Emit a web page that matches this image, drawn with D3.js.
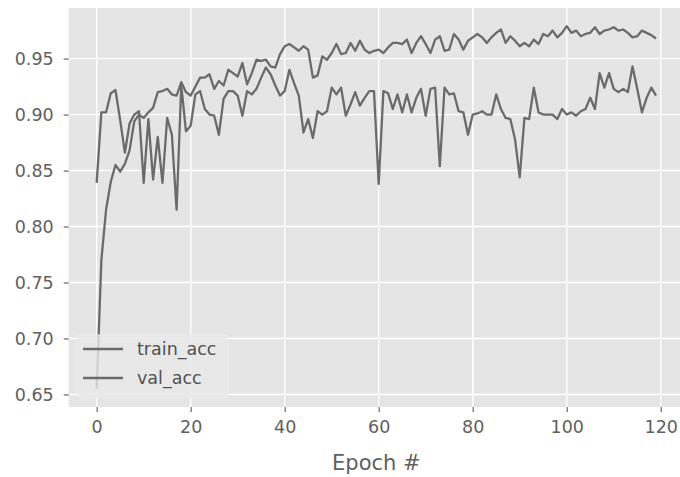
<!DOCTYPE html>
<html>
<head>
<meta charset="utf-8">
<script src="https://cdn.jsdelivr.net/npm/d3@7"></script>
<style>
  body { margin: 0; background: #fff; }
  svg { display: block; font-family: "DejaVu Sans", sans-serif; }
</style>
</head>
<body>
<div id="chart-container"></div>
<script>
// accuracy per epoch
const trainAcc = [
  0.655, 0.770, 0.815, 0.840, 0.855, 0.849, 0.856, 0.868, 0.894, 0.900,
  0.897, 0.902, 0.906, 0.920, 0.921, 0.923, 0.918, 0.917, 0.929, 0.920,
  0.917, 0.925, 0.933, 0.933, 0.936, 0.923, 0.930, 0.926, 0.940, 0.937,
  0.934, 0.946, 0.927, 0.937, 0.949, 0.948, 0.949, 0.943, 0.942, 0.954,
  0.961, 0.963, 0.960, 0.957, 0.961, 0.958, 0.933, 0.935, 0.952, 0.949,
  0.955, 0.963, 0.954, 0.955, 0.964, 0.957, 0.966, 0.958, 0.955, 0.957,
  0.958, 0.955, 0.960, 0.964, 0.964, 0.963, 0.967, 0.955, 0.964, 0.970,
  0.963, 0.955, 0.967, 0.970, 0.957, 0.958, 0.972, 0.967, 0.958, 0.966,
  0.969, 0.972, 0.969, 0.964, 0.969, 0.973, 0.976, 0.964, 0.970, 0.966,
  0.961, 0.964, 0.961, 0.967, 0.963, 0.972, 0.970, 0.975, 0.969, 0.973,
  0.979, 0.973, 0.975, 0.970, 0.972, 0.973, 0.978, 0.972, 0.975, 0.976,
  0.978, 0.975, 0.976, 0.973, 0.969, 0.970, 0.975, 0.973, 0.971, 0.968
];

const valAcc = [
  0.839, 0.902, 0.902, 0.919, 0.922, 0.895, 0.866, 0.892, 0.900, 0.903,
  0.839, 0.896, 0.842, 0.880, 0.839, 0.897, 0.882, 0.815, 0.926, 0.885,
  0.890, 0.918, 0.921, 0.905, 0.900, 0.899, 0.882, 0.914, 0.921, 0.921,
  0.917, 0.899, 0.921, 0.918, 0.923, 0.933, 0.942, 0.936, 0.926, 0.917,
  0.921, 0.940, 0.928, 0.917, 0.884, 0.896, 0.879, 0.903, 0.900, 0.903,
  0.924, 0.918, 0.924, 0.899, 0.909, 0.920, 0.908, 0.915, 0.921, 0.921,
  0.838, 0.921, 0.919, 0.905, 0.918, 0.902, 0.918, 0.902, 0.915, 0.923,
  0.899, 0.923, 0.924, 0.854, 0.924, 0.918, 0.919, 0.903, 0.902, 0.882,
  0.900, 0.901, 0.903, 0.900, 0.900, 0.918, 0.905, 0.897, 0.896, 0.878,
  0.844, 0.897, 0.896, 0.924, 0.902, 0.900, 0.900, 0.900, 0.896, 0.905,
  0.900, 0.902, 0.899, 0.903, 0.905, 0.915, 0.905, 0.937, 0.924, 0.937,
  0.923, 0.920, 0.923, 0.920, 0.943, 0.923, 0.902, 0.915, 0.924, 0.917
];

const seriesNames = ["train_acc", "val_acc"];
const xTicks = [0, 20, 40, 60, 80, 100, 120];
const yTicks = [0.65, 0.70, 0.75, 0.80, 0.85, 0.90, 0.95];
const xLabel = "Epoch #";

function createVisualization() {
  const width = 680;
  const height = 477;
  const plot = { left: 68.7, right: 684, top: 8, bottom: 407 };

  const epochs = d3.range(trainAcc.length);
  const series = [trainAcc, valAcc];

  // matplotlib style 5% margins around the data
  const xExt = d3.extent(epochs);
  const xPad = (xExt[1] - xExt[0]) * 0.05;
  const x = d3.scaleLinear()
    .domain([xExt[0] - xPad, xExt[1] + xPad])
    .range([plot.left, plot.right]);

  const yExt = d3.extent(trainAcc.concat(valAcc));
  const yPad = (yExt[1] - yExt[0]) * 0.05;
  const y = d3.scaleLinear()
    .domain([yExt[0] - yPad, yExt[1] + yPad])
    .range([plot.bottom, plot.top]);

  const svg = d3.select("#chart-container")
    .append("svg")
    .attr("width", width)
    .attr("height", height);

  svg.append("rect")
    .attr("width", width)
    .attr("height", height)
    .attr("fill", "#fff");

  // grey panel
  svg.append("rect")
    .attr("x", plot.left)
    .attr("y", plot.top)
    .attr("width", plot.right - plot.left)
    .attr("height", plot.bottom - plot.top)
    .attr("fill", "#e5e5e5");

  // grid
  svg.append("g")
    .selectAll("line")
    .data(xTicks)
    .enter()
    .append("line")
    .attr("x1", d => x(d))
    .attr("x2", d => x(d))
    .attr("y1", plot.top)
    .attr("y2", plot.bottom)
    .attr("stroke", "#fff")
    .attr("stroke-width", 1.4);

  svg.append("g")
    .selectAll("line")
    .data(yTicks)
    .enter()
    .append("line")
    .attr("x1", plot.left)
    .attr("x2", plot.right)
    .attr("y1", d => y(d))
    .attr("y2", d => y(d))
    .attr("stroke", "#fff")
    .attr("stroke-width", 1.4);

  // x axis
  const xAxis = svg.append("g")
    .attr("transform", `translate(0,${plot.bottom})`)
    .call(d3.axisBottom(x).tickValues(xTicks).tickSize(5).tickPadding(9));
  xAxis.select(".domain").remove();

  // y axis
  const yAxis = svg.append("g")
    .attr("transform", `translate(${plot.left},0)`)
    .call(d3.axisLeft(y).tickValues(yTicks).tickFormat(d3.format(".2f")).tickSize(5).tickPadding(10));
  yAxis.select(".domain").remove();

  svg.selectAll(".tick line")
    .attr("stroke", "#666")
    .attr("stroke-width", 1.2);
  svg.selectAll(".tick text")
    .attr("fill", "#606060")
    .style("font-size", "17.5px")
    .style("font-family", "DejaVu Sans");

  // lines
  const line = d3.line()
    .x((d, i) => x(epochs[i]))
    .y(d => y(d));

  svg.append("g")
    .selectAll("path")
    .data(series)
    .enter()
    .append("path")
    .attr("d", line)
    .attr("fill", "none")
    .attr("stroke", "#6b6b6b")
    .attr("stroke-width", 2.3)
    .attr("stroke-linejoin", "round");

  // x axis title
  svg.append("text")
    .attr("x", (plot.left + plot.right) / 2)
    .attr("y", 470)
    .attr("text-anchor", "middle")
    .attr("fill", "#606060")
    .style("font-size", "21px")
    .text(xLabel);

  // legend
  const legend = svg.append("g")
    .attr("transform", "translate(77,335)");

  legend.append("rect")
    .attr("width", 151)
    .attr("height", 63)
    .attr("rx", 4)
    .attr("fill", "#e9e9e9")
    .attr("fill-opacity", 0.8)
    .attr("stroke", "#eeeeee");

  legend.selectAll("line")
    .data(seriesNames)
    .enter()
    .append("line")
    .attr("x1", 6)
    .attr("x2", 46)
    .attr("y1", (d, i) => 14 + i * 29)
    .attr("y2", (d, i) => 14 + i * 29)
    .attr("stroke", "#6b6b6b")
    .attr("stroke-width", 2.3);

  legend.selectAll("text")
    .data(seriesNames)
    .enter()
    .append("text")
    .attr("x", 60)
    .attr("y", (d, i) => 20 + i * 29)
    .attr("fill", "#505050")
    .style("font-size", "17.5px")
    .text(d => d);
}

createVisualization();
</script>
</body>
</html>
